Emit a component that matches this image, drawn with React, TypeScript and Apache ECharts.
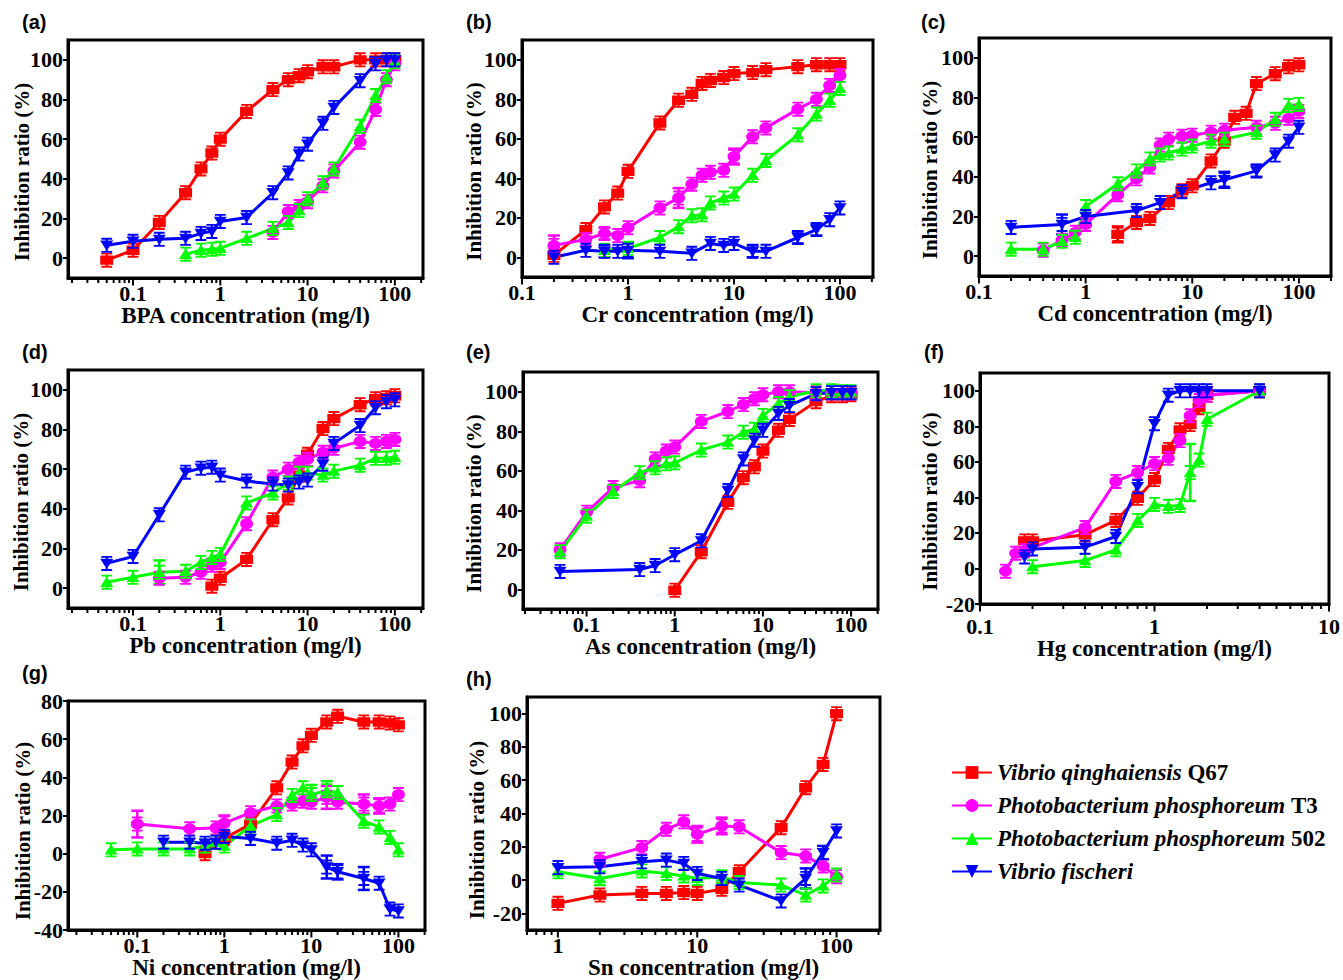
import React, { useEffect, useRef } from 'react';
import * as echarts from 'echarts';

// ---------------- data ----------------
const SPECIES = [
  'Vibrio qinghaiensis Q67',
  'Photobacterium phosphoreum T3',
  'Photobacterium phosphoreum 502',
  'Vibrio fischeri',
];
const COLORS = ['#ff0000', '#ff00ff', '#00ff00', '#0000ff'];

type P = [number, number][];

// (a) BPA
const bpaQ67: P = [[0.05, -1], [0.1, 4], [0.2, 18], [0.4, 33], [0.6, 45], [0.8, 53], [1, 60], [2, 74], [4, 85], [6, 90], [8, 92], [10, 94], [15, 96.5], [20, 96.5], [40, 100], [60, 100], [80, 100], [100, 100]];
const bpaT3: P = [[4, 13], [6, 23.5], [8, 26], [10, 28.5], [15, 36.5], [20, 44], [40, 58.5], [60, 75], [80, 90], [100, 98]];
const bpa502: P = [[0.4, 2], [0.6, 4], [0.8, 4.5], [1, 5], [2, 10], [4, 15], [6, 18], [8, 24], [10, 30], [15, 38], [20, 45], [40, 66.5], [60, 82], [80, 91.5], [100, 99]];
const bpaVf: P = [[0.05, 6.5], [0.1, 8.5], [0.2, 9.5], [0.4, 10], [0.6, 12.5], [0.8, 13.5], [1, 18.5], [2, 20.5], [4, 33], [6, 43], [8, 52.5], [10, 57.5], [15, 68], [20, 76], [40, 89.5], [60, 98], [80, 100], [100, 100]];

// (b) Cr
const crQ67: P = [[0.2, 1], [0.4, 14], [0.6, 25.5], [0.8, 32.5], [1, 43.5], [2, 68], [3, 79.5], [4, 82.5], [5, 88], [6, 89.5], [8, 91], [10, 93], [15, 93.5], [20, 95], [40, 96.5], [60, 97.5], [80, 97.5], [100, 97.5]];
const crT3: P = [[0.2, 6], [0.4, 9], [0.6, 12], [0.8, 11], [1, 15], [2, 25], [3, 30], [4, 37], [5, 41.5], [6, 43], [8, 44], [10, 51], [15, 61], [20, 65.5], [40, 75], [60, 80], [80, 87], [100, 92]];
const cr502: P = [[0.6, 3.5], [1, 4.5], [2, 10], [3, 15.5], [4, 21], [5, 21.5], [6, 27.5], [8, 30], [10, 32], [15, 41.5], [20, 49], [40, 62], [60, 72.5], [80, 79.5], [100, 85.5]];
const crVf: P = [[0.2, 0], [0.4, 3.5], [0.6, 3], [0.8, 3], [1, 3.5], [2, 3], [4, 2], [6, 7], [8, 6], [10, 7], [15, 3], [20, 3], [40, 10], [60, 14], [80, 19], [100, 25]];

// (c) Cd
const cdQ67: P = [[2, 11], [3, 17], [4, 19], [6, 27], [8, 33], [10, 35.5], [15, 48], [20, 58], [25, 70], [32, 72], [40, 87], [60, 92], [80, 95.5], [100, 96.5]];
const cdT3: P = [[0.4, 3], [0.6, 8], [0.8, 12], [1, 16], [2, 31], [3, 39], [4, 45], [5, 56], [6, 59], [8, 60.5], [10, 61], [15, 62.5], [20, 63.5], [40, 65], [60, 67], [80, 69.5], [100, 73]];
const cd502: P = [[0.2, 3.5], [0.4, 3.5], [0.6, 7.5], [0.8, 9.5], [1, 25], [2, 36.5], [3, 43], [4, 49], [5, 51], [6, 52], [8, 54], [10, 55.5], [15, 58], [20, 59], [40, 62.5], [60, 69], [80, 76], [100, 76.5]];
const cdVf: P = [[0.2, 14.5], [0.6, 16], [1, 20], [3, 23], [5, 27], [8, 32.5], [15, 37], [20, 38.5], [40, 43], [60, 51], [80, 58], [100, 65]];

// (d) Pb
const pbQ67: P = [[0.8, 1], [1, 5], [2, 14.5], [4, 34.5], [6, 45.5], [8, 57], [10, 67.5], [15, 80.5], [20, 85.5], [40, 92.5], [60, 95.5], [80, 96], [100, 97]];
const pbT3: P = [[0.2, 5], [0.4, 5.5], [0.6, 8], [0.8, 11.5], [1, 13], [2, 32.5], [4, 56], [6, 60], [8, 63.5], [10, 65], [15, 68.5], [20, 70.5], [40, 74], [60, 73], [80, 74], [100, 75]];
const pb502: P = [[0.05, 3], [0.1, 5.5], [0.2, 8], [0.4, 8.5], [0.6, 13], [0.8, 15.5], [1, 17], [2, 43], [4, 48], [6, 53], [8, 58], [10, 58], [15, 57], [20, 59], [40, 62], [60, 65.5], [80, 65.5], [100, 66]];
const pbVf: P = [[0.05, 12.5], [0.1, 16], [0.2, 37], [0.4, 58.5], [0.6, 60.5], [0.8, 61], [1, 57], [2, 54], [4, 52.5], [6, 52], [8, 53.5], [10, 54.5], [15, 62.5], [20, 73], [40, 82], [60, 91], [80, 94], [100, 95]];

// (e) As
const asQ67: P = [[1, -0.5], [2, 19], [4, 44], [6, 56.5], [8, 62], [10, 70], [15, 80.5], [20, 86], [40, 95], [60, 98], [80, 98], [100, 98.5]];
const asT3: P = [[0.05, 20], [0.1, 39], [0.2, 51.5], [0.4, 55], [0.6, 66], [0.8, 70], [1, 72], [2, 85], [4, 90], [6, 93.5], [8, 96.5], [10, 98.5], [15, 100], [20, 100], [40, 99.5], [60, 99.5], [80, 99.5], [100, 99.5]];
const as502: P = [[0.05, 19], [0.1, 37], [0.2, 49.5], [0.4, 59], [0.6, 61.5], [0.8, 63.5], [1, 64], [2, 70.5], [4, 74.5], [6, 79.5], [8, 81], [10, 88], [15, 94], [20, 97.5], [40, 100.5], [60, 100.5], [80, 100], [100, 100]];
const asVf: P = [[0.05, 9], [0.4, 10], [0.6, 12], [1, 17.5], [2, 24.5], [4, 50], [6, 66], [8, 75.5], [10, 80.5], [15, 89], [20, 93], [40, 99], [60, 99.5], [80, 99.5], [100, 99.5]];

// (f) Hg
const hgQ67: P = [[0.18, 15.5], [0.2, 15.5], [0.4, 19], [0.6, 27], [0.8, 39.5], [1, 50], [1.2, 67], [1.4, 78], [1.6, 81], [1.8, 90.5], [2, 97.5], [4, 100]];
const hgT3: P = [[0.14, -1.5], [0.16, 8.5], [0.18, 10], [0.4, 23], [0.6, 49], [0.8, 54], [1, 59], [1.2, 62], [1.4, 72], [1.6, 86], [1.8, 94.5], [2, 97.5], [4, 100]];
const hg502: P = [[0.2, 1], [0.4, 4.5], [0.6, 10.5], [0.8, 27], [1, 36], [1.2, 35], [1.4, 35.5], [1.6, 54], [1.8, 61], [2, 84], [4, 100]];
const hgVf: P = [[0.18, 6.5], [0.2, 11], [0.4, 12], [0.6, 18], [0.8, 46], [1, 81.5], [1.2, 97.5], [1.4, 100], [1.6, 100], [1.8, 100], [2, 100], [4, 100]];

// (g) Ni
const niQ67: P = [[0.6, 0], [1, 8], [2, 15.5], [4, 34.5], [6, 48], [8, 56.5], [10, 62], [15, 69], [20, 72], [40, 69], [60, 69], [80, 68.5], [100, 67.5]];
const niT3: P = [[0.1, 15.5], [0.4, 13], [0.8, 13.5], [1, 16], [2, 21.5], [4, 25], [6, 26], [8, 27.5], [10, 27], [15, 29.5], [20, 27], [40, 26], [60, 25], [80, 26], [100, 31]];
const ni502: P = [[0.05, 2], [0.1, 2.5], [0.2, 2.5], [0.4, 2.5], [0.6, 4], [0.8, 6], [1, 4], [2, 14.5], [4, 20.5], [6, 30.5], [8, 34.5], [10, 31], [15, 33], [20, 32], [40, 17], [60, 14], [80, 8.5], [100, 2]];
const niVf: P = [[0.2, 6], [0.4, 6], [0.6, 5.5], [0.8, 6], [1, 9], [2, 8], [4, 5.5], [6, 7], [8, 4.5], [10, 2], [15, -7], [20, -9.5], [40, -13], [60, -15.5], [80, -29], [100, -30]];

// (h) Sn
const snQ67: P = [[1, -14], [2, -9], [4, -8], [6, -8], [8, -7.5], [10, -8], [15, -5.5], [20, 5], [40, 31.5], [60, 55.5], [80, 69.5], [100, 100]];
const snT3: P = [[2, 12.5], [4, 19.5], [6, 30.5], [8, 35], [10, 27.5], [15, 32.5], [20, 32], [40, 16.5], [60, 14.5], [80, 8.5], [100, 2]];
const sn502: P = [[1, 5], [2, 1], [4, 5.5], [6, 4], [8, 2.5], [10, 1], [15, 2], [20, -1.5], [40, -3], [60, -9], [80, -3.5], [100, 3]];
const snVf: P = [[1, 7.5], [2, 8], [4, 11], [6, 12], [8, 10], [10, 4], [15, 1], [20, -3], [40, -12.5], [60, 1], [80, 16.5], [100, 29.5]];

// large error bars: [panel, species, x, y, half-width]
const errorBars: [number, number, number, number, number][] = [
  [1, 1, 0.2, 6, 5], [1, 1, 0.6, 12, 3], [1, 1, 3, 30, 5], [1, 1, 10, 51, 4],
  [1, 3, 0.6, 3, 3], [1, 3, 1, 3.5, 4], [1, 3, 15, 3, 3], [1, 3, 40, 10, 3], [1, 3, 60, 14, 3],
  [2, 0, 2, 11, 4], [2, 3, 0.6, 16, 5], [2, 3, 20, 38.5, 4], [2, 3, 40, 43, 3],
  [3, 2, 0.2, 8, 6],
  [5, 2, 1.6, 54, 16],
  [6, 1, 0.1, 15.5, 7], [6, 1, 1, 16, 4], [6, 1, 15, 29.5, 6], [6, 1, 40, 26, 5], [6, 1, 60, 25, 4],
  [6, 2, 10, 31, 5], [6, 2, 15, 33, 5], [6, 3, 15, -7, 6], [6, 3, 20, -9.5, 4], [6, 3, 40, -13, 6],
  [7, 1, 10, 27.5, 5], [7, 1, 15, 32.5, 5], [7, 3, 60, 1, 6], [7, 2, 2, 1, 4], [7, 3, 80, 16.5, 4],
];

// tick labels
const yTicks100 = [0, 20, 40, 60, 80, 100];
const yTicksHg = [-20, 0, 20, 40, 60, 80, 100];
const yTicksNi = [-40, -20, 0, 20, 40, 60, 80];
const yTicksSn = [-20, 0, 20, 40, 60, 80, 100];

const metals = ['BPA', 'Cr', 'Cd', 'Pb', 'As', 'Hg', 'Ni', 'Sn'];
const panelLabels = ['(a)', '(b)', '(c)', '(d)', '(e)', '(f)', '(g)', '(h)'];
const Y_NAME = 'Inhibition ratio (%)';
const panelData: P[][] = [
  [bpaQ67, bpaT3, bpa502, bpaVf],
  [crQ67, crT3, cr502, crVf],
  [cdQ67, cdT3, cd502, cdVf],
  [pbQ67, pbT3, pb502, pbVf],
  [asQ67, asT3, as502, asVf],
  [hgQ67, hgT3, hg502, hgVf],
  [niQ67, niT3, ni502, niVf],
  [snQ67, snT3, sn502, snVf],
];

// ---------------- layout ----------------
const LAYOUT = [
  { grid: { left: 68, top: 40, width: 355, height: 238 }, x: [0.018, 210], y: [-10, 110], yt: yTicks100, lab: [22, 12], nx: 22, lm: 4, ng: 26 },
  { grid: { left: 522, top: 40, width: 351, height: 237 }, x: [0.1, 205], y: [-10, 110], yt: yTicks100, lab: [466, 12], nx: 474, lm: 4, ng: 26 },
  { grid: { left: 979, top: 38, width: 352, height: 238 }, x: [0.1, 200], y: [-10, 110], yt: yTicks100, lab: [921, 12], nx: 930, lm: 4, ng: 26 },
  { grid: { left: 68, top: 370, width: 355, height: 238 }, x: [0.018, 210], y: [-10, 110], yt: yTicks100, lab: [22, 342], nx: 21, lm: 4, ng: 26 },
  { grid: { left: 523, top: 372, width: 355, height: 237 }, x: [0.019, 202], y: [-10, 110], yt: yTicks100, lab: [466, 342], nx: 474, lm: 4, ng: 26 },
  { grid: { left: 980, top: 373, width: 352, height: 231 }, x: [0.1, 10], y: [-20, 110], yt: yTicksHg, lab: [924, 342], nx: 930, lm: 11, ng: 33 },
  { grid: { left: 68, top: 701, width: 357, height: 234 }, x: [0.016, 202], y: [-40, 80], yt: yTicksNi, lab: [22, 663], nx: 23, lm: 4, ng: 26 },
  { grid: { left: 527, top: 697, width: 353, height: 240 }, x: [0.6, 205], y: [-30, 110], yt: yTicksSn, lab: [466, 669], nx: 477, lm: 4, ng: 26 },
];

const FONT = "'Liberation Serif', 'Times New Roman', serif";
const CAPS = 'M1 0h10v2h-10z M5 0h2v16h-2z M1 14h10v2h-10z';
const MARKERS = [
  `path://${CAPS} M0 3h12v10h-12z`,
  `path://${CAPS} M6 2a6 6 0 1 1 0 12a6 6 0 1 1 0 -12z`,
  `path://${CAPS} M6 2L12 13H0z`,
  `path://${CAPS} M0 3H12L6 14z`,
];
const LEGEND_SYMBOLS = ['rect', 'circle', 'triangle', 'path://M0 0H10L5 10z'];
const LEGEND_TEXT: Record<string, string> = {
  'Vibrio qinghaiensis Q67': '{i|Vibrio qinghaiensis} {n|Q67}',
  'Photobacterium phosphoreum T3': '{i|Photobacterium phosphoreum} {n|T3}',
  'Photobacterium phosphoreum 502': '{i|Photobacterium phosphoreum} {n|502}',
  'Vibrio fischeri': '{i|Vibrio fischeri}',
};

function xTicks(min: number, max: number): number[][] {
  const out: number[][] = [];
  for (let k = Math.floor(Math.log10(min)); k <= Math.ceil(Math.log10(max)); k++) {
    for (let m = 1; m <= 9; m++) {
      const v = Number((m * Math.pow(10, k)).toPrecision(6));
      if (v >= min * 0.999 && v <= max * 1.001) out.push([v, m === 1 ? 6 : 3.5]);
    }
  }
  return out;
}

function buildOption() {
  const grids: any[] = [];
  const xAxes: any[] = [];
  const yAxes: any[] = [];
  const series: any[] = [];
  const graphics: any[] = [];

  // legend carrier series
  SPECIES.forEach((name, s) => {
    series.push({
      type: 'line', name, data: [], xAxisIndex: 0, yAxisIndex: 0,
      symbol: LEGEND_SYMBOLS[s], symbolSize: 12,
      itemStyle: { color: COLORS[s] }, lineStyle: { color: COLORS[s], width: 3.5 },
    });
  });

  LAYOUT.forEach((L, p) => {
    grids.push({ ...L.grid, show: true, borderColor: '#000', borderWidth: 3, backgroundColor: 'transparent', containLabel: false });
    xAxes.push({
      type: 'log', logBase: 10, gridIndex: p, min: L.x[0], max: L.x[1],
      name: `${metals[p]} concentration (mg/l)`, nameLocation: 'middle', nameGap: L.ng, nameMoveOverlap: false,
      nameTextStyle: { fontFamily: FONT, fontWeight: 'bold', fontSize: 23, color: '#000' },
      axisLine: { show: true, onZero: false, lineStyle: { color: '#000', width: 3 } },
      axisTick: { show: false },
      splitLine: { show: false },
      minorTick: { show: false },
      axisLabel: {
        fontFamily: FONT, fontWeight: 'bold', fontSize: 22, color: '#000', margin: L.lm,
        formatter: (v: number) => {
          const l = Math.log10(v);
          return Math.abs(l - Math.round(l)) < 1e-6 ? String(Number(v.toPrecision(6))) : '';
        },
      },
    });
    yAxes.push({
      type: 'value', gridIndex: p, min: L.y[0], max: L.y[1],
      axisLine: { show: true, onZero: false, lineStyle: { color: '#000', width: 3 } },
      axisTick: { show: true, length: 5, lineStyle: { color: '#000', width: 2 }, customValues: L.yt },
      axisLabel: { fontFamily: FONT, fontWeight: 'bold', fontSize: 22, color: '#000', margin: 5, customValues: L.yt },
      splitLine: { show: false },
    });

    panelData[p].forEach((pts, s) => {
      series.push({
        type: 'line', name: SPECIES[s], xAxisIndex: p, yAxisIndex: p, data: pts,
        symbol: MARKERS[s], symbolSize: [13, 15],
        itemStyle: { color: COLORS[s] }, lineStyle: { color: COLORS[s], width: 3 },
        emphasis: { disabled: true }, silent: true,
      });
    });

    const yMin = L.y[0];
    series.push({
      type: 'custom', xAxisIndex: p, yAxisIndex: p, silent: true, clip: false,
      data: errorBars.filter((e) => e[0] === p).map((e) => [e[2], e[3], e[4], e[1]]),
      renderItem: (_params: any, api: any) => {
        const x = api.value(0), y = api.value(1), e = api.value(2), c = api.value(3);
        const t = api.coord([x, y + e]);
        const b = api.coord([x, y - e]);
        const style = { stroke: COLORS[c], lineWidth: 2.5, fill: null };
        return {
          type: 'group', children: [
            { type: 'line', shape: { x1: t[0], y1: t[1], x2: b[0], y2: b[1] }, style },
            { type: 'line', shape: { x1: t[0] - 6, y1: t[1], x2: t[0] + 6, y2: t[1] }, style },
            { type: 'line', shape: { x1: b[0] - 6, y1: b[1], x2: b[0] + 6, y2: b[1] }, style },
          ],
        };
      },
    });

    series.push({
      type: 'custom', xAxisIndex: p, yAxisIndex: p, silent: true, clip: false,
      data: xTicks(L.x[0], L.x[1]).map((t) => [t[0], yMin, t[1]]),
      renderItem: (_params: any, api: any) => {
        const pt = api.coord([api.value(0), api.value(1)]);
        const len = api.value(2);
        return { type: 'line', shape: { x1: pt[0], y1: pt[1], x2: pt[0], y2: pt[1] + 1.5 + len }, style: { stroke: '#000', lineWidth: 2 } };
      },
    });

    graphics.push({
      type: 'text', left: L.lab[0], top: L.lab[1],
      style: { text: panelLabels[p], fontFamily: "'Liberation Sans', Arial, sans-serif", fontWeight: 'bold', fontSize: 20, fill: '#000' },
    });
    graphics.push({
      type: 'text', x: L.nx, y: L.grid.top + L.grid.height / 2 + 13, rotation: Math.PI / 2,
      style: { text: Y_NAME, fontFamily: FONT, fontWeight: 'bold', fontSize: 21, fill: '#000', align: 'center', verticalAlign: 'middle' },
    });
  });

  return {
    animation: false,
    backgroundColor: '#fff',
    grid: grids,
    xAxis: xAxes,
    yAxis: yAxes,
    series,
    graphic: graphics,
    legend: {
      orient: 'vertical', left: 951, top: 761, padding: 0, itemWidth: 40, itemHeight: 16, itemGap: 10,
      selectedMode: false, data: SPECIES,
      formatter: (name: string) => LEGEND_TEXT[name] || name,
      textStyle: {
        fontFamily: FONT, fontWeight: 'bold', fontSize: 23, color: '#000',
        rich: {
          i: { fontFamily: FONT, fontWeight: 'bold', fontStyle: 'italic', fontSize: 23, color: '#000', lineHeight: 26 },
          n: { fontFamily: FONT, fontWeight: 'bold', fontStyle: 'normal', fontSize: 23, color: '#000', lineHeight: 26 },
        },
      },
    },
  };
}

export default function App() {
  const ref = useRef<HTMLDivElement>(null);
  useEffect(() => {
    document.body.style.margin = '0';
    if (!ref.current) return;
    const chart = echarts.init(ref.current, undefined, { renderer: 'svg' });
    chart.setOption(buildOption() as any);
    return () => chart.dispose();
  }, []);
  return <div ref={ref} style={{ width: 1343, height: 980 }} />;
}
